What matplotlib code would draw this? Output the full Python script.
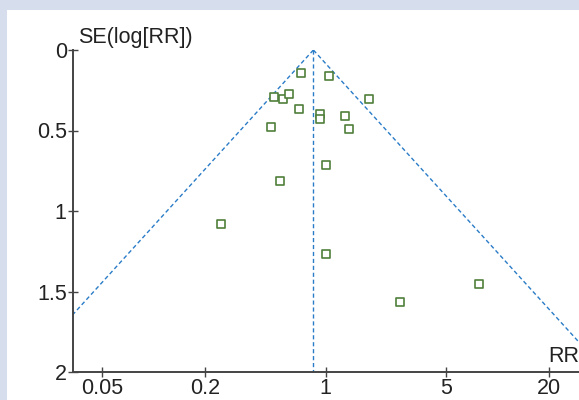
import numpy as np
import matplotlib
matplotlib.use("Agg")
import matplotlib.pyplot as plt

plt.rcParams['font.family'] = ['Liberation Sans', 'DejaVu Sans']

# study estimates
rr = [0.718, 1.048, 0.504, 0.568, 0.611, 0.698, 0.925, 0.933, 0.484,
      1.303, 1.370, 1.798, 1.007, 0.544, 0.246, 1.007, 2.722, 7.81]
se = [0.145, 0.161, 0.294, 0.306, 0.271, 0.366, 0.399, 0.430, 0.480,
      0.408, 0.493, 0.304, 0.712, 0.812, 1.083, 1.265, 1.565, 1.453]

pooled_rr = 0.85
z = 1.96
se_max = 2.0

x_ticks = [0.05, 0.2, 1, 5, 20]
x_tick_labels = ["0.05", "0.2", "1", "5", "20"]
y_ticks = [0, 0.5, 1, 1.5, 2]
y_tick_labels = ["0", "0.5", "1", "1.5", "2"]

fig = plt.figure(figsize=(5.79, 4.0), dpi=100)
fig.patch.set_facecolor("#d6deee")

# white panel behind the plot
bg = fig.add_axes([7 / 579, 0, 1 - 7 / 579, 390 / 400], zorder=-1)
bg.set_axis_off()
bg.add_patch(plt.Rectangle((0, 0), 1, 1, transform=bg.transAxes,
                           facecolor="white", edgecolor="none"))

ax = fig.add_axes([73 / 579, 28 / 400, 1 - 73 / 579, 322 / 400])
ax.set_facecolor("none")

line_col = "#2a7cc7"
dash = (0, (3, 2))

# funnel (pseudo 95% limits)
se_grid = np.array([0, se_max])
lo = np.exp(np.log(pooled_rr) - z * se_grid)
hi = np.exp(np.log(pooled_rr) + z * se_grid)
ax.plot(lo, se_grid, color=line_col, lw=1, linestyle=dash)
ax.plot(hi, se_grid, color=line_col, lw=1, linestyle=dash)
ax.plot([pooled_rr, pooled_rr], se_grid, color=line_col, lw=1, linestyle=dash)

ax.scatter(rr, se, marker="s", s=36, facecolors="white", edgecolors="#4f7f3b",
           linewidths=1.2, zorder=3)

ax.set_xscale("log")
ax.set_xlim(0.034, 29.8)
ax.set_ylim(2, 0)
ax.set_xticks(x_ticks)
ax.set_xticklabels(x_tick_labels)
ax.minorticks_off()
ax.set_yticks(y_ticks)
ax.set_yticklabels(y_tick_labels)

for s in ["top", "right"]:
    ax.spines[s].set_visible(False)
for s in ["left", "bottom"]:
    ax.spines[s].set_color("#444444")
    ax.spines[s].set_linewidth(1.4)
ax.tick_params(direction="inout", length=7, width=1, color="#444444",
               labelsize=15.5, labelcolor="#222222", pad=1)

fig.text(78 / 579, 352 / 400, "SE(log[RR])", fontsize=15.5, color="#222222",
         va="bottom", ha="left")
fig.text(1.0, 33 / 400, "RR", fontsize=15.5, color="#222222", va="bottom", ha="right")

fig.savefig("out.png", dpi=100, facecolor=fig.get_facecolor())
